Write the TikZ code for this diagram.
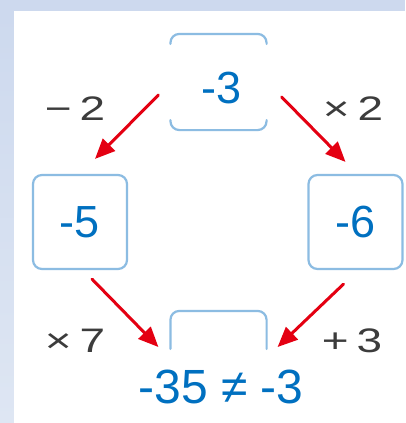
\documentclass[tikz,border=0pt]{standalone}
\usepackage{graphicx}
\usepackage{fontspec}
\setmainfont{Liberation Sans}
\usetikzlibrary{arrows.meta}
\definecolor{bgblue}{RGB}{205,217,238}
\definecolor{bgbluelight}{RGB}{222,230,243}
\definecolor{boxblue}{RGB}{140,188,226}
\definecolor{numblue}{RGB}{0,112,192}
\definecolor{opred}{RGB}{228,0,18}
\definecolor{opgray}{RGB}{60,60,60}
\newcommand{\oplabel}[2]{\scalebox{1.35}[1]{#1\hspace{6pt}#2}}

\begin{document}
\begin{tikzpicture}[x=1pt,y=-1pt,line join=round,line cap=round,
  numbox/.style={draw=boxblue, line width=2.2pt, rounded corners=9pt, minimum width=94pt, minimum height=94pt, inner sep=0pt, text=numblue, font=\fontsize{45}{48}\selectfont},
  numtext/.style={text=numblue, inner sep=0pt, font=\fontsize{45}{48}\selectfont},
  boxedge/.style={draw=boxblue, line width=2.2pt, rounded corners=9pt},
  optext/.style={text=opgray, inner sep=0pt, font=\fontsize{34}{36}\selectfont},
  oparrow/.style={draw=opred, line width=3pt, -{Triangle[length=20pt,width=17pt]}}]

  \useasboundingbox (0,0) rectangle (405,423);
  % background frame
  \fill[bgblue] (0,0) rectangle (405,11);
  \shade[top color=bgblue, bottom color=bgbluelight] (0,11) rectangle (14,423);
  \fill[white] (14,11) rectangle (405,423);

  % 1. the four boxes
  \node[numbox, draw=none] (n0) at (218.5,82) {};
  \node[numtext] (v0) at (222,88) {-3};
  \draw[boxedge] ([shift={(0,10)}]n0.north west) |- (n0.north east) -- ++(0,10);
  \draw[boxedge] ([shift={(0,-10)}]n0.south west) |- (n0.south east) -- ++(0,-10);
  \node[numbox] (n1) at (80,222) {-5};
  \node[numbox] (n2) at (355.5,222) {-6};
  \node[numbox, draw=none] (n3) at (218.5,359) {};
  \draw[boxedge] ([shift={(0,38)}]n3.north west) |- (n3.north east) -- ++(0,38);

  % 2. the operations
  \draw[oparrow] ([shift={(-12,13)}]n0.west) -- ([shift={(15,-15)}]n1.north);
  \draw[oparrow] ([shift={(15,15)}]n0.east) -- ([shift={(-10,-12)}]n2.north);
  \draw[oparrow] ([shift={(12,9)}]n1.south) -- ([shift={(-12,-12)}]n3.west);
  \draw[oparrow] ([shift={(-12,14)}]n2.south) -- ([shift={(11,-12)}]n3.east);
  \node[optext] (o1) at (75,109) {\oplabel{−}{2}};
  \node[optext] (o2) at (353,109) {\oplabel{×}{2}};
  \node[optext] (o3) at (75,341) {\oplabel{×}{7}};
  \node[optext] (o4) at (352,341) {\oplabel{+}{3}};

  % 3. the result
  \node[numtext, font=\fontsize{48}{50}\selectfont] (res) at (221,387) {-35 ≠ -3};

\end{tikzpicture}
\end{document}
